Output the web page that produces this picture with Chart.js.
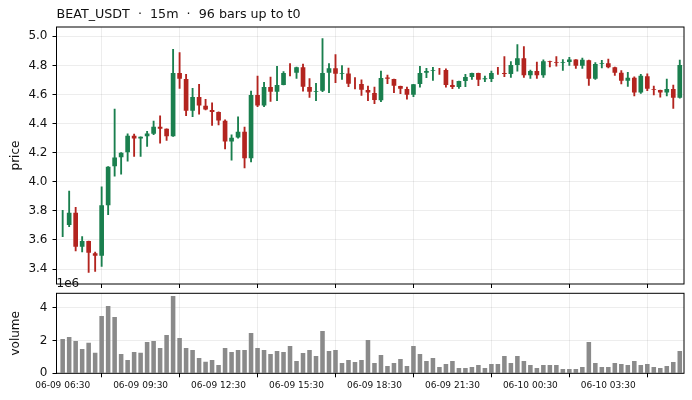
<!DOCTYPE html>
<html>
<head>
<meta charset="utf-8">
<script src="https://cdn.jsdelivr.net/npm/chart.js@4.4.1/dist/chart.umd.min.js"></script>
<style>
  html, body { margin: 0; padding: 0; background: #fff; }
  #wrap { position: relative; width: 692px; height: 400px; overflow: hidden; }
  #wrap canvas { position: absolute; left: 0; }
  #graficoPrecio { top: 0; }
  #graficoVolumen { top: 270px; }
</style>
</head>
<body>
<div id="wrap">
  <canvas id="graficoPrecio" width="692" height="297"></canvas>
  <canvas id="graficoVolumen" width="692" height="130"></canvas>
</div>
<script>
// 96 velas de 15m
const opens = [
  3.703, 3.703, 3.787, 3.553, 3.592, 3.509, 3.491, 3.838, 4.107, 4.168, 4.202, 4.316,
  4.298, 4.312, 4.330, 4.378, 4.364, 4.312, 4.747, 4.706, 4.489, 4.583, 4.522, 4.494,
  4.480, 4.419, 4.277, 4.305, 4.344, 4.162, 4.597, 4.524, 4.651, 4.619, 4.665, 4.748,
  4.749, 4.788, 4.651, 4.618, 4.626, 4.749, 4.781, 4.742, 4.744, 4.674, 4.672, 4.631,
  4.610, 4.560, 4.717, 4.706, 4.658, 4.638, 4.599, 4.672, 4.749, 4.763, 4.766, 4.768,
  4.665, 4.651, 4.692, 4.720, 4.747, 4.704, 4.706, 4.745, 4.747, 4.740, 4.802, 4.850,
  4.733, 4.761, 4.733, 4.829, 4.822, 4.817, 4.824, 4.840, 4.797, 4.836, 4.708, 4.809,
  4.815, 4.788, 4.749, 4.695, 4.715, 4.613, 4.726, 4.638, 4.631, 4.613, 4.638, 4.578
];
const highs = [
  3.803, 3.936, 3.824, 3.623, 3.592, 3.516, 3.965, 4.104, 4.499, 4.200, 4.330, 4.328,
  4.309, 4.346, 4.417, 4.453, 4.364, 4.911, 4.888, 4.738, 4.642, 4.670, 4.567, 4.542,
  4.480, 4.426, 4.323, 4.446, 4.376, 4.624, 4.726, 4.683, 4.720, 4.793, 4.758, 4.813,
  4.788, 4.809, 4.710, 4.676, 4.984, 4.813, 4.874, 4.799, 4.781, 4.717, 4.701, 4.658,
  4.651, 4.761, 4.733, 4.706, 4.658, 4.651, 4.670, 4.793, 4.779, 4.786, 4.779, 4.777,
  4.699, 4.692, 4.738, 4.747, 4.747, 4.726, 4.761, 4.786, 4.861, 4.827, 4.943, 4.929,
  4.768, 4.822, 4.838, 4.829, 4.861, 4.840, 4.856, 4.840, 4.850, 4.836, 4.820, 4.834,
  4.843, 4.788, 4.765, 4.752, 4.722, 4.738, 4.742, 4.658, 4.631, 4.706, 4.665, 4.836
];
const lows = [
  3.623, 3.692, 3.525, 3.518, 3.377, 3.384, 3.418, 3.774, 4.038, 4.052, 4.141, 4.175,
  4.175, 4.243, 4.323, 4.266, 4.284, 4.312, 4.642, 4.455, 4.448, 4.464, 4.494, 4.387,
  4.391, 4.225, 4.148, 4.300, 4.095, 4.136, 4.517, 4.517, 4.553, 4.558, 4.665, 4.728,
  4.710, 4.622, 4.580, 4.558, 4.619, 4.612, 4.681, 4.704, 4.654, 4.638, 4.594, 4.558,
  4.537, 4.551, 4.674, 4.613, 4.606, 4.567, 4.585, 4.651, 4.715, 4.697, 4.738, 4.651,
  4.640, 4.642, 4.654, 4.704, 4.660, 4.688, 4.688, 4.738, 4.722, 4.717, 4.761, 4.717,
  4.711, 4.711, 4.717, 4.790, 4.795, 4.765, 4.799, 4.779, 4.779, 4.663, 4.704, 4.783,
  4.783, 4.731, 4.672, 4.656, 4.590, 4.608, 4.626, 4.597, 4.581, 4.590, 4.505, 4.574
];
const closes = [
  3.7031, 3.787, 3.553, 3.592, 3.512, 3.491, 3.838, 4.104, 4.166, 4.200, 4.316, 4.298,
  4.309, 4.332, 4.378, 4.364, 4.312, 4.747, 4.708, 4.489, 4.583, 4.524, 4.496, 4.480,
  4.421, 4.277, 4.303, 4.344, 4.162, 4.597, 4.524, 4.651, 4.619, 4.665, 4.747, 4.7479,
  4.788, 4.654, 4.619, 4.624, 4.747, 4.781, 4.742, 4.748, 4.674, 4.6739, 4.633, 4.613,
  4.562, 4.713, 4.708, 4.660, 4.640, 4.599, 4.670, 4.747, 4.761, 4.768, 4.7659, 4.665,
  4.651, 4.692, 4.720, 4.747, 4.701, 4.711, 4.747, 4.7449, 4.740, 4.802, 4.850, 4.733,
  4.761, 4.733, 4.829, 4.824, 4.817, 4.822, 4.840, 4.797, 4.838, 4.708, 4.809, 4.814,
  4.788, 4.749, 4.695, 4.715, 4.613, 4.729, 4.640, 4.632, 4.613, 4.638, 4.578, 4.802
];
// volumen en millones (eje marcado 1e6)
const volumes = [
  2.09, 2.21, 1.97, 1.48, 1.87, 1.26, 3.49, 4.10, 3.43, 1.18, 0.81, 1.30,
  1.26, 1.91, 1.97, 1.54, 2.34, 4.71, 2.15, 1.54, 1.42, 0.93, 0.71, 0.81,
  0.51, 1.54, 1.30, 1.42, 1.42, 2.46, 1.54, 1.42, 1.18, 1.36, 1.30, 1.66,
  0.75, 1.24, 1.42, 1.06, 2.58, 1.36, 1.42, 0.63, 0.81, 0.69, 0.81, 2.03,
  0.63, 1.12, 0.45, 0.63, 0.87, 0.45, 1.66, 1.18, 0.75, 0.93, 0.39, 0.57,
  0.75, 0.32, 0.32, 0.39, 0.51, 0.32, 0.57, 0.57, 1.06, 0.63, 1.06, 0.75,
  0.51, 0.32, 0.51, 0.51, 0.51, 0.26, 0.26, 0.26, 0.39, 1.91, 0.63, 0.39,
  0.39, 0.63, 0.57, 0.51, 0.75, 0.51, 0.57, 0.39, 0.32, 0.45, 0.69, 1.36
];
const tickBars = [0, 12, 24, 36, 48, 60, 72, 84];
const tickLabels = ['06-09 06:30', '06-09 09:30', '06-09 12:30', '06-09 15:30',
                    '06-09 18:30', '06-09 21:30', '06-10 00:30', '06-10 03:30'];
const priceTicks = [3.4, 3.6, 3.8, 4.0, 4.2, 4.4, 4.6, 4.8, 5.0];
const volumeTicks = [0, 2, 4];

const VERDE = '#1a7f4e';
const ROJO = '#b3241f';
const GRIS_BARRA = '#8a8a8a';
const GRID = 'rgba(0,0,0,0.07)';
const FUENTE = "'DejaVu Sans', sans-serif";

const colores = closes.map((c, i) => c >= opens[i] ? VERDE : ROJO);

// marco negro alrededor del area de datos
const marco = {
    id: 'marco',
    afterDraw(chart) {
        const { ctx, chartArea: a } = chart;
        ctx.save();
        ctx.strokeStyle = '#000';
        ctx.lineWidth = 1;
        ctx.strokeRect(a.left, a.top, a.right - a.left, a.bottom - a.top);
        ctx.restore();
    }
};

// texto de escala "1e6" del volumen
const offsetTexto = {
    id: 'offsetTexto',
    afterDraw(chart) {
        const { ctx, chartArea: a } = chart;
        ctx.save();
        ctx.fillStyle = '#111';
        ctx.font = `12px ${FUENTE}`;
        ctx.textAlign = 'left';
        ctx.textBaseline = 'middle';
        ctx.fillText('1e6', a.left, a.top - 9);
        ctx.restore();
    }
};

function ejeX(mostrarEtiquetas, alto) {
    return {
        type: 'linear',
        min: -0.95,
        max: 95.65,
        offset: false,
        afterBuildTicks: (axis) => { axis.ticks = tickBars.map(v => ({ value: v })); },
        afterFit: (scale) => { scale.height = alto; },
        grid: { color: GRID, lineWidth: 1, drawTicks: true, tickLength: 4, tickColor: '#000', tickWidth: 1 },
        border: { display: false },
        ticks: {
            display: mostrarEtiquetas,
            autoSkip: false,
            maxRotation: 0,
            padding: 3,
            color: '#111',
            font: { family: FUENTE, size: 9 },
            callback: (value) => tickLabels[tickBars.indexOf(value)] || ''
        }
    };
}

function ejeY(titulo, min, max, ticks, formato) {
    return {
        min: min,
        max: max,
        afterBuildTicks: (axis) => { axis.ticks = ticks.map(v => ({ value: v })); },
        afterFit: (scale) => { scale.width = 56.5; },
        grid: { color: GRID, lineWidth: 1, drawTicks: true, tickLength: 4, tickColor: '#000', tickWidth: 1 },
        border: { display: false },
        title: {
            display: true,
            text: titulo,
            color: '#111',
            font: { family: FUENTE, size: 12 },
            padding: { top: 9, bottom: 0 }
        },
        ticks: {
            padding: 5,
            color: '#111',
            font: { family: FUENTE, size: 12 },
            callback: formato
        }
    };
}

new Chart(document.getElementById('graficoPrecio'), {
    type: 'bar',
    data: {
        datasets: [
            {
                label: 'mecha',
                data: lows.map((l, i) => ({ x: i, y: [l, highs[i]] })),
                backgroundColor: colores,
                barThickness: 1.2,
                grouped: false,
                order: 2
            },
            {
                label: 'cuerpo',
                data: opens.map((o, i) => ({ x: i, y: [o, closes[i]] })),
                backgroundColor: colores,
                barPercentage: 0.72,
                categoryPercentage: 1,
                grouped: false,
                order: 1
            }
        ]
    },
    options: {
        responsive: false,
        animation: false,
        devicePixelRatio: 1,
        layout: { padding: { left: 0, right: 8, top: 0, bottom: 0 } },
        plugins: {
            legend: { display: false },
            tooltip: { enabled: false },
            title: {
                display: true,
                text: 'BEAT_USDT  \u00b7  15m  \u00b7  96 bars up to t0',
                align: 'start',
                fullSize: false,
                color: '#111',
                font: { family: FUENTE, size: 12.7, weight: 'normal' },
                padding: { top: 7, bottom: 4.76 }
            }
        },
        scales: {
            x: ejeX(false, 13),
            y: ejeY('price', 3.297, 5.064, priceTicks, (v) => v.toFixed(1))
        }
    },
    plugins: [marco]
});

new Chart(document.getElementById('graficoVolumen'), {
    type: 'bar',
    data: {
        datasets: [{
            label: 'volume',
            data: volumes.map((v, i) => ({ x: i, y: v })),
            backgroundColor: GRIS_BARRA,
            barPercentage: 0.7,
            categoryPercentage: 1
        }]
    },
    options: {
        responsive: false,
        animation: false,
        devicePixelRatio: 1,
        layout: { padding: { left: 0, right: 8, top: 23.3, bottom: 0 } },
        plugins: {
            legend: { display: false },
            tooltip: { enabled: false }
        },
        scales: {
            x: ejeX(true, 26.7),
            y: ejeY('volume', 0, 4.88, volumeTicks, (v) => String(v))
        }
    },
    plugins: [marco, offsetTexto]
});
</script>
</body>
</html>
